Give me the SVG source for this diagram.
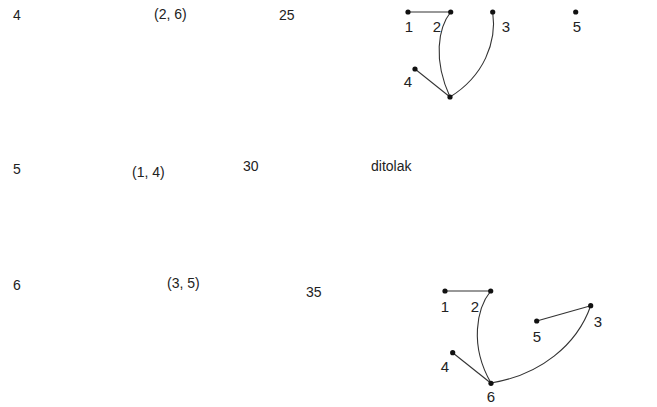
<svg xmlns="http://www.w3.org/2000/svg" width="657" height="407" viewBox="0 0 657 407">
<style>
text{font-family:"Liberation Sans",Arial,sans-serif;font-size:14px;fill:#222}
.lbl{text-anchor:middle;font-size:15px}
.e{fill:none;stroke:#333;stroke-width:1.1}
.n{fill:#111}
</style>
<rect width="657" height="407" fill="#fff"/>
<g id="table">
<text x="13" y="20">4</text>
<text x="154" y="19">(2, 6)</text>
<text x="279" y="20">25</text>
<text x="13" y="174">5</text>
<text x="132" y="177">(1, 4)</text>
<text x="243" y="171">30</text>
<text x="371" y="171">ditolak</text>
<text x="13" y="290">6</text>
<text x="167" y="288">(3, 5)</text>
<text x="306" y="297">35</text>
</g>
<g id="connectors">
<line class="e" x1="408" y1="12" x2="450.7" y2="12"/>
<path class="e" d="M450.7,12 C438,28 433,60 450,97"/>
<path class="e" d="M492.7,12 C497,42 484,76 450,97"/>
<line class="e" x1="415" y1="69" x2="450" y2="97"/>
<line class="e" x1="445" y1="291" x2="490.7" y2="291"/>
<path class="e" d="M490.7,291 C477,308 469,345 491,383"/>
<path class="e" d="M590.7,305.7 C577,345 540,375 491,383"/>
<line class="e" x1="536.7" y1="321" x2="590.7" y2="305.7"/>
<line class="e" x1="452.7" y1="352.7" x2="491" y2="383.3"/>
</g>
<g id="g1n1"><circle class="n" cx="408" cy="12" r="2.6"/><text class="lbl" x="409" y="32">1</text></g>
<g id="g1n2"><circle class="n" cx="450.7" cy="12" r="2.6"/><text class="lbl" x="437" y="32">2</text></g>
<g id="g1n3"><circle class="n" cx="492.7" cy="12" r="2.6"/><text class="lbl" x="506" y="32">3</text></g>
<g id="g1n5"><circle class="n" cx="575.7" cy="12" r="2.6"/><text class="lbl" x="577" y="32">5</text></g>
<g id="g1n4"><circle class="n" cx="415" cy="69" r="2.6"/><text class="lbl" x="408" y="87">4</text></g>
<g id="g1n6"><circle class="n" cx="450" cy="97" r="2.6"/></g>
<g id="g2n1"><circle class="n" cx="445" cy="291" r="2.6"/><text class="lbl" x="445" y="312">1</text></g>
<g id="g2n2"><circle class="n" cx="490.7" cy="291" r="2.6"/><text class="lbl" x="475" y="312">2</text></g>
<g id="g2n3"><circle class="n" cx="590.7" cy="305.7" r="2.6"/><text class="lbl" x="598" y="327">3</text></g>
<g id="g2n5"><circle class="n" cx="536.7" cy="321" r="2.6"/><text class="lbl" x="537" y="342">5</text></g>
<g id="g2n4"><circle class="n" cx="452.7" cy="352.7" r="2.6"/><text class="lbl" x="445" y="372">4</text></g>
<g id="g2n6"><circle class="n" cx="491" cy="383.3" r="2.6"/><text class="lbl" x="491" y="402">6</text></g>
</svg>
